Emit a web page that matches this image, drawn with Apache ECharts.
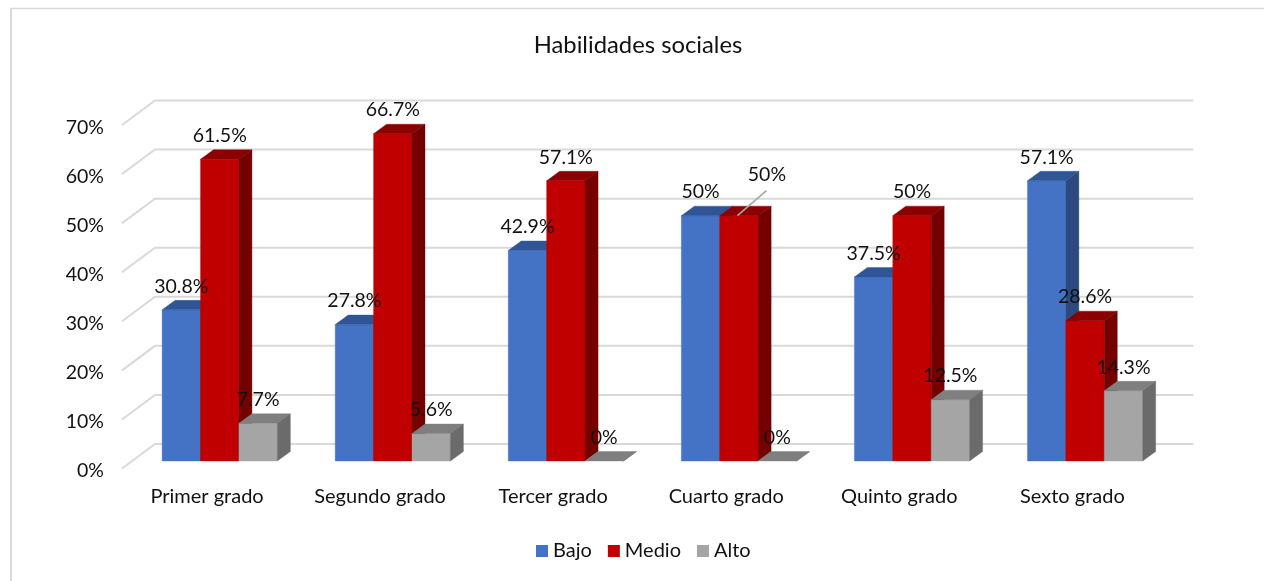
<!DOCTYPE html>
<html><head><meta charset="utf-8">
<style>html,body{margin:0;padding:0;background:#fff}#c{width:1264px;height:581px}</style>
<script src="https://cdn.jsdelivr.net/npm/echarts@6/dist/echarts.min.js"></script>
</head><body><div id="c"></div>
<script>
const categories = ['Primer grado','Segundo grado','Tercer grado','Cuarto grado','Quinto grado','Sexto grado'];
const bajo  = [30.8, 27.8, 42.9, 50, 37.5, 57.1];
const medio = [61.5, 66.7, 57.1, 50, 50, 28.6];
const alto  = [7.7, 5.6, 0, 0, 12.5, 14.3];
const yTicks = [0,10,20,30,40,50,60,70];
const seriesNames = ['Bajo','Medio','Alto'];

const FONT = 'Lato, sans-serif';
const TXT = '#111';
const BAR_W = 38.4, BAR_DX = 11.2, BAR_DY = 7.5, TOP_DX = 13, TOP_DY = 9.5;
const WALL_DX = 33, WALL_DY = 24.5;
const faces = [
  {front:'#4472C4', top:'#2F5597', side:'#2C4A80'},
  {front:'#C00000', top:'#8B0000', side:'#750000'},
  {front:'#A5A5A5', top:'#7F7F7F', side:'#6B6B6B'}
];

function barItem(si){
  return function(params, api){
    const cat = api.value(0), v = api.value(1);
    const base = api.coord([cat, 0]), tip = api.coord([cat, v]);
    const l = base[0] + BAR_DX + (si - 1.5) * BAR_W, r = l + BAR_W;
    const b = base[1] - BAR_DY, t = tip[1] - BAR_DY;
    const f = faces[si];
    const kids = [];
    const fl = c => ({fill:c, stroke:c, lineWidth:0.4});
    if (v > 0) kids.push({type:'rect', shape:{x:l, y:t, width:BAR_W, height:b-t}, style:fl(f.front)});
    kids.push({type:'polygon', shape:{points:[[l,t],[l+TOP_DX,t-TOP_DY],[r+TOP_DX,t-TOP_DY],[r,t]]}, style:fl(f.top)});
    kids.push({type:'polygon', shape:{points:[[r,t],[r+TOP_DX,t-TOP_DY],[r+TOP_DX,b-TOP_DY],[r,b]]}, style:fl(f.side)});
    let tx = (l+r)/2, ty = t - 23.5;
    if (si === 1 && params.dataIndex === 3) {
      kids.push({type:'line', shape:{x1:tx-1.5, y1:t, x2:tx+27.5, y2:t-25}, style:{stroke:'#A6A6A6', lineWidth:1.6}, z2:50});
      tx += 28; ty -= 17;
    }
    kids.push({type:'text', z2:100, style:{x:tx, y:ty, text:v+'%', fill:TXT, font:'19.5px '+FONT, align:'center', verticalAlign:'middle'}});
    return {type:'group', children:kids};
  };
}
function wallItem(params, api){
  const p = api.coord([0, api.value(0)]);
  const x0 = params.coordSys.x, w = params.coordSys.width, y = p[1];
  return {type:'polyline', shape:{points:[[x0,y],[x0+WALL_DX,y-WALL_DY],[x0+WALL_DX+w,y-WALL_DY]]},
    style:{stroke:'#D9D9D9', lineWidth:2, fill:null}};
}
function barSeries(si, values){
  return {type:'custom', name:seriesNames[si], z:3, clip:false,
    itemStyle:{color:faces[si].front},
    encode:{x:0,y:1},
    data:values.map((v,i)=>[i,v]), renderItem:barItem(si)};
}
const chart = echarts.init(document.getElementById('c'), null, {renderer:'canvas'});
chart.setOption({
  animation:false,
  backgroundColor:'#fff',
  title:{text:'Habilidades sociales', left:633, top:28, textAlign:'center',
    textStyle:{fontFamily:FONT, fontSize:23.8, fontWeight:'normal', color:TXT}},
  legend:{data:seriesNames, left:531, top:536, itemWidth:12, itemHeight:12, itemGap:16,
    icon:'rect', textStyle:{fontFamily:FONT, fontSize:20, color:TXT}},
  grid:{left:122, top:125, width:1038.4, height:343.5},
  xAxis:{type:'category', data:categories, axisLine:{show:false}, axisTick:{show:false},
    axisLabel:{margin:18, fontFamily:FONT, fontSize:20, color:TXT, interval:0, padding:[0,3,0,0]}},
  yAxis:{type:'value', min:0, max:70, interval:10, axisLine:{show:false}, axisTick:{show:false},
    splitLine:{show:false},
    axisLabel:{margin:18, fontFamily:FONT, fontSize:19.5, color:TXT, formatter:'{value}%', verticalAlign:'top', lineHeight:5}},
  graphic:[
    {type:'line', silent:true, shape:{x1:11,y1:8,x2:11,y2:581}, style:{stroke:'#D9D9D9', lineWidth:2}},
    {type:'line', silent:true, shape:{x1:10,y1:8.5,x2:1264,y2:8.5}, style:{stroke:'#D9D9D9', lineWidth:1.3}}
  ],
  series:[
    {type:'custom', name:'wall', z:1, clip:false, silent:true, data:yTicks.map(v=>[v]), encode:{y:0}, renderItem:wallItem},
    barSeries(0,bajo), barSeries(1,medio), barSeries(2,alto)
  ]
});
</script></body></html>
